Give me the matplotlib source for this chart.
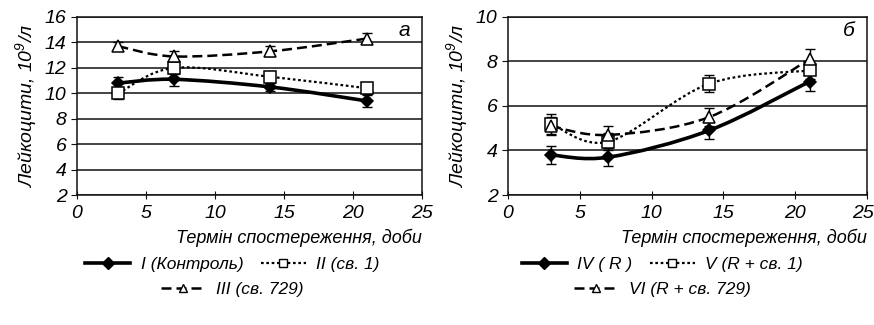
import matplotlib
matplotlib.use("Agg")
import matplotlib.pyplot as plt
from matplotlib.path import Path
from matplotlib.patches import PathPatch
from matplotlib.lines import Line2D
from matplotlib.transforms import ScaledTranslation

base = 'Liberation Sans'
plt.rcParams['font.family'] = [base, 'DejaVu Sans']
plt.rcParams['font.style'] = 'italic'
plt.rcParams['mathtext.fontset'] = 'custom'
plt.rcParams['mathtext.it'] = base + ':italic'
plt.rcParams['mathtext.rm'] = base + ':italic'

days = [3, 7, 14, 21]

# panel a
s1 = [10.8, 11.1, 10.5, 9.4]
e1 = [0.45, 0.5, 0.3, 0.45]
s2 = [10.0, 12.0, 11.3, 10.4]
e2 = [0.45, 0.45, 0.48, 0.43]
s3 = [13.7, 12.9, 13.3, 14.3]
e3 = [0.33, 0.43, 0.4, 0.42]
# panel b
s4 = [3.8, 3.7, 4.9, 7.1]
e4 = [0.4, 0.4, 0.4, 0.43]
s5 = [5.2, 4.4, 7.0, 7.6]
e5 = [0.44, 0.38, 0.38, 0.4]
s6 = [5.1, 4.7, 5.5, 8.1]
e6 = [0.4, 0.4, 0.42, 0.45]

labels_a = ['I (Контроль)', 'II (св. 1)', 'III (св. 729)']
labels_b = ['IV ( R )', 'V (R + св. 1)', 'VI (R + св. 729)']
panel_tags = ['а', 'б']
xlabel = 'Термін спостереження, доби'
ylabel = 'Лейкоцити, 10$^9$/л'

styles = [
    dict(ls='-', lw=2.6, marker='D', ms=6, mfc='black', lms=6),
    dict(ls=(0, (1.2, 1.2)), lw=1.6, marker='s', ms=8, mfc='white', lms=6),
    dict(ls=(0, (4, 2)), lw=1.8, marker='^', ms=8, mfc='white', lms=6),
]


def smooth_path(x, y):
    pts = list(zip(x, y))
    n = len(pts)
    verts = [pts[0]]
    codes = [Path.MOVETO]
    for i in range(n - 1):
        p0 = pts[i - 1] if i > 0 else pts[i]
        p1 = pts[i]
        p2 = pts[i + 1]
        p3 = pts[i + 2] if i + 2 < n else pts[i + 1]
        c1 = (p1[0] + (p2[0] - p0[0]) / 6, p1[1] + (p2[1] - p0[1]) / 6)
        c2 = (p2[0] - (p3[0] - p1[0]) / 6, p2[1] - (p3[1] - p1[1]) / 6)
        verts += [c1, c2, p2]
        codes += [Path.CURVE4] * 3
    return Path(verts, codes)


def panel(ax, series, errs, labels, ylim, tag, legx):
    ax.set_xlim(0, 25)
    ax.set_ylim(*ylim)
    ax.set_xticks(range(0, 26, 5))
    ax.set_yticks(range(ylim[0], ylim[1] + 1, 2))
    ax.yaxis.grid(True, color='#111111', lw=1.1)
    ax.set_axisbelow(True)
    for sp in ax.spines.values():
        sp.set_color('#111111')
        sp.set_linewidth(1.1)
    ax.tick_params(axis='both', labelsize=14, color='#111111', length=4)
    ax.tick_params(axis='x', direction='inout', length=6, pad=4)
    handles = []
    for y, e, st, lab in zip(series, errs, styles, labels):
        ax.add_patch(PathPatch(smooth_path(days, y), fill=False, ec='black',
                               lw=st['lw'], ls=st['ls'], zorder=3))
        ax.errorbar(days, y, yerr=e, fmt='none', ecolor='black', elinewidth=1,
                    capsize=3.5, capthick=1, zorder=4)
        ax.plot(days, y, ls='none', marker=st['marker'], ms=st['ms'],
                mfc=st['mfc'], mec='black', mew=1.1, zorder=5)
        handles.append(Line2D([], [], color='black', ls=st['ls'], lw=st['lw'],
                              marker=st['marker'], ms=st['lms'],
                              mfc=st['mfc'], mec='black', mew=1.0))
    ax.text(0.965, 0.975, tag, transform=ax.transAxes, ha='right', va='top', fontsize=15)
    ax.set_xlabel(xlabel, fontsize=13, loc='right', labelpad=5)
    ax.set_ylabel(ylabel, fontsize=14, labelpad=4)
    leg1 = ax.legend(handles[:2], labels[:2], ncol=2, loc='upper center',
                     bbox_to_anchor=(legx, -0.35), frameon=False, fontsize=12.5,
                     handlelength=2.6, columnspacing=1.0, handletextpad=0.6,
                     borderpad=0, borderaxespad=0)
    ax.add_artist(leg1)
    ax.legend(handles[2:], labels[2:], loc='upper center',
              bbox_to_anchor=(legx, -0.49), frameon=False, fontsize=12.5,
              handlelength=2.6, handletextpad=0.6, borderpad=0, borderaxespad=0)


fig = plt.figure(figsize=(8.74, 3.25), dpi=100)
ax1 = fig.add_axes([0.0881, 0.40, 0.3947, 0.5477])
ax2 = fig.add_axes([0.5812, 0.40, 0.4108, 0.5477])
panel(ax1, [s1, s2, s3], [e1, e2, e3], labels_a, (2, 16), panel_tags[0], 0.45)
panel(ax2, [s4, s5, s6], [e4, e5, e6], labels_b, (2, 10), panel_tags[1], 0.43)
fig.canvas.draw()
last = ax2.get_xticklabels()[-1]
last.set_transform(last.get_transform() + ScaledTranslation(-4 / 100, 0, fig.dpi_scale_trans))
fig.savefig('out.png', dpi=100)
